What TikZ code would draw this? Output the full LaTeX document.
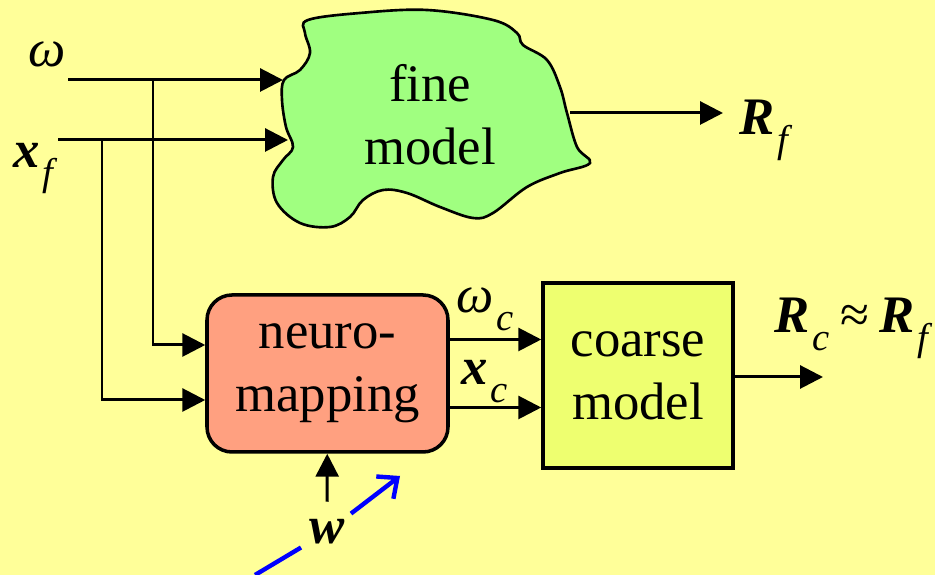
\documentclass[tikz,border=0pt]{standalone}
\usepackage{fontspec}
\setmainfont{Liberation Serif}
\usetikzlibrary{arrows.meta}
\definecolor{bgyellow}{RGB}{255,255,153}
\definecolor{finegreen}{RGB}{160,255,128}
\definecolor{neurored}{RGB}{255,160,128}
\definecolor{coarsegreen}{RGB}{238,255,112}
\newcommand{\bvec}[1]{\textbf{\textit{#1}}}
\newcommand{\lsub}[1]{\raisebox{-10pt}{\fontsize{22}{22}\selectfont\kern1.5pt\textit{#1}}}

\begin{document}
\begin{tikzpicture}[line width=1.7pt,
  tip/.style={-{Triangle[length=13pt,width=13pt]}},
  lbl/.style={inner sep=0pt,font=\fontsize{30}{36}\selectfont},
  box/.style={draw,line width=2pt,align=center,font=\fontsize{30}{36}\selectfont}]
\fill[bgyellow] (0,0) rectangle (18.7,11.5);
\useasboundingbox (0,0) rectangle (18.7,11.5);
% fine model blob
\draw[fill=finegreen,line width=1.5pt] plot[smooth cycle,tension=0.6] coordinates {
(6.16,11.1) (7.2,11.24) (8.54,11.3) (9.86,11.1) (10.34,10.84) (10.46,10.6)
(10.94,10.3) (11.2,9.76) (11.34,9.24) (11.54,8.56) (11.8,8.24) (11.2,8.04)
(10.54,7.76) (9.86,7.24) (9.46,7.14) (8.8,7.36) (8.14,7.64) (7.66,7.7)
(7.26,7.5) (7.0,7.16) (6.6,6.96) (6.0,7.04) (5.54,7.44) (5.46,7.96)
(5.66,8.3) (5.86,8.56) (5.72,8.96) (5.64,9.5) (5.68,9.9) (6.0,10.1)
(6.2,10.44) (6.1,10.84)};
\draw
(8.6,9.2) node[lbl,align=center](fine){fine\\model}
(6.55,4.03) node[box,fill=neurored,rounded corners=0.5cm,minimum width=4.82cm,minimum height=3.14cm](neuro){neuro-\\mapping}
(12.76,3.99) node[box,fill=coarsegreen,minimum width=3.8cm,minimum height=3.7cm](coarse){coarse\\model}
(0.54,10.16) node[lbl,anchor=base west](om){\textit{ω}}
(0.24,8.14) node[lbl,anchor=base west](xf){\bvec{x}\lsub{f}}
(14.76,8.8) node[lbl,anchor=base west](rf){\bvec{R}\lsub{f}}
(9.1,5.24) node[lbl,anchor=base west](omc){\textit{ω}\lsub{c}}
(9.2,3.8) node[lbl,anchor=base west](xc){\bvec{x}\lsub{c}}
(15.46,4.84) node[lbl,anchor=base west](rcf){\bvec{R}\lsub{c}\kern6pt≈\kern6pt\bvec{R}\lsub{f}}
(6.54,0.86) node[lbl,circle,minimum size=1.15cm](w){\bvec{w}}
;
\coordinate (omin) at (1.36,9.9);
\coordinate (xin) at (1.16,8.7);
\coordinate (ombr) at (3.06,9.9);
\coordinate (xbr) at (2.04,8.7);
\coordinate (finew) at (5.66,9.9);
\coordinate (finex) at (5.76,8.7);
\coordinate (fineout) at (11.4,9.24);
\coordinate (rfend) at (14.46,9.24);
\coordinate (rcend) at (16.46,3.96);
\coordinate (bs) at (5.1,0);
\coordinate (be) at (8.0,1.98);
\draw[tip] (omin)--(finew);
\draw[tip] (xin)--(finex);
\draw[tip] (ombr) |- ([yshift=0.57cm]neuro.west);
\draw[tip] (xbr) |- ([yshift=-0.53cm]neuro.west);
\draw[tip] (fineout)--(rfend);
\draw[tip] ([yshift=0.68cm]neuro.east)--([yshift=0.68cm]neuro.east -| coarse.west);
\draw[tip] ([yshift=-0.68cm]neuro.east)--([yshift=-0.68cm]neuro.east -| coarse.west);
\draw[tip] (coarse.east |- rcend)--(rcend);
\draw[tip] (w)--(neuro);
\draw[blue,line width=2.5pt] (bs)--(w);
\draw[blue,line width=2.5pt,-{Straight Barb[length=9pt,width=16pt]}] (w)--(be);
\end{tikzpicture}
\end{document}
